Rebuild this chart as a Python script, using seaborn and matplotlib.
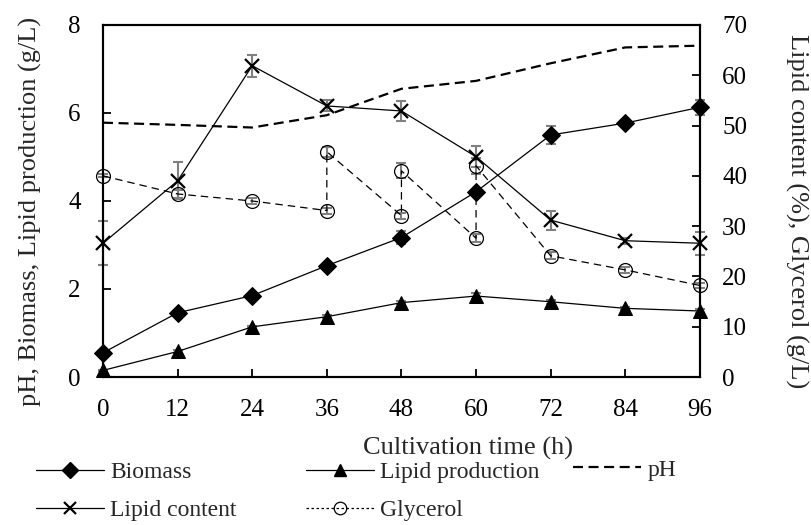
import matplotlib
matplotlib.use("Agg")
import matplotlib.pyplot as plt
import seaborn as sns
import pandas as pd
from matplotlib.lines import Line2D

# Style
sns.set_style("ticks")
plt.rcParams['font.family'] = ['Liberation Serif', 'DejaVu Serif']

# Data
time_h = [0, 12, 24, 36, 48, 60, 72, 84, 96]
biomass = [0.55, 1.46, 1.85, 2.53, 3.17, 4.21, 5.50, 5.77, 6.13]
biomass_err = [0.03, 0.04, 0.04, 0.05, 0.14, 0.05, 0.20, 0.08, 0.17]
lipid_prod = [0.15, 0.58, 1.14, 1.37, 1.69, 1.84, 1.71, 1.56, 1.50]
lipid_prod_err = [0.02, 0.03, 0.03, 0.03, 0.04, 0.07, 0.04, 0.03, 0.05]
ph = [5.78, 5.73, 5.67, 5.95, 6.55, 6.73, 7.13, 7.49, 7.53]
lipid_content = [26.6, 39.0, 61.9, 53.9, 52.9, 43.8, 31.2, 27.1, 26.6]
lipid_content_err = [4.4, 3.7, 2.2, 1.1, 2.0, 2.1, 1.9, 0.6, 2.3]
# glycerol was fed at 36, 48 and 60 h -> two readings at each of those times
glycerol_time = [0, 12, 24, 36, 36, 48, 48, 60, 60, 72, 84, 96]
glycerol = [40.0, 36.4, 35.0, 33.1, 44.8, 32.1, 41.0, 27.6, 42.0, 24.1, 21.3, 18.2]
glycerol_err = [0.3, 0.8, 0.5, 0.6, 1.0, 0.6, 1.5, 0.8, 1.6, 0.7, 0.6, 0.5]

left_ticks = [0, 2, 4, 6, 8]
right_ticks = [0, 10, 20, 30, 40, 50, 60, 70]

df = pd.DataFrame({"t": time_h, "biomass": biomass, "lipid_prod": lipid_prod,
                   "ph": ph, "lipid_content": lipid_content})
gly = pd.DataFrame({"t": glycerol_time, "glycerol": glycerol})

ERR = "#808080"
fig = plt.figure(figsize=(8.11, 5.25), dpi=100)
fig.subplots_adjust(left=0.127, right=0.863, top=0.9524, bottom=0.2819)
ax = fig.add_subplot(111)
ax2 = ax.twinx()

# error bars (gray)
eb = dict(fmt='none', ecolor=ERR, elinewidth=1.5, capsize=3.5, capthick=1.5,
          clip_on=False, zorder=2)
ax.errorbar(time_h, biomass, yerr=biomass_err, **eb)
ax.errorbar(time_h, lipid_prod, yerr=lipid_prod_err, **eb)
ax2.errorbar(time_h, lipid_content, yerr=lipid_content_err, **eb)
ax2.errorbar(glycerol_time, glycerol, yerr=glycerol_err, **eb)

# left axis series
sns.lineplot(data=df, x="t", y="ph", ax=ax, color="black", lw=1.6,
             linestyle=(0, (4.5, 2.5)), clip_on=False, zorder=3)
sns.lineplot(data=df, x="t", y="biomass", ax=ax, color="black", lw=0.9,
             marker="D", markersize=9, markerfacecolor="black",
             markeredgecolor="black", clip_on=False, zorder=4)
sns.lineplot(data=df, x="t", y="lipid_prod", ax=ax, color="black", lw=0.9,
             marker="^", markersize=10, markerfacecolor="black",
             markeredgecolor="black", clip_on=False, zorder=4)

# right axis series
sns.lineplot(data=df, x="t", y="lipid_content", ax=ax2, color="black", lw=0.9,
             marker="x", markersize=10, markeredgewidth=1.6,
             markeredgecolor="black", clip_on=False, zorder=4)
sns.lineplot(data=gly, x="t", y="glycerol", ax=ax2, color="black", lw=0.9,
             linestyle=(0, (6, 4)), marker="o", markersize=10,
             markerfacecolor="none", markeredgecolor="black", markeredgewidth=0.9,
             estimator=None, sort=False, clip_on=False, zorder=4)

ax.set_xlim(0, 96)
ax.set_xticks(time_h)
ax.set_ylim(0, 8)
ax.set_yticks(left_ticks)
ax2.set_ylim(0, 70)
ax2.set_yticks(right_ticks)

for a in (ax, ax2):
    for s in a.spines.values():
        s.set_linewidth(1.5)
        s.set_color("black")
ax.tick_params(axis='both', direction='in', length=6, width=1.3, pad=16,
               labelsize=18, colors="black", top=False, right=False)
ax2.tick_params(axis='y', direction='in', length=6, width=1.3, pad=16,
                labelsize=18, colors="black")

ax.set_xlabel("Cultivation time (h)", fontsize=19)
ax.set_ylabel("pH, Biomass, Lipid production (g/L)", fontsize=19)
ax2.set_ylabel("Lipid content (%), Glycerol (g/L)", fontsize=19, rotation=270)
ax.xaxis.label.set_va('center')
ax.yaxis.label.set_va('center')
ax2.yaxis.label.set_va('center')
ax.xaxis.set_label_coords(0.611, -0.202)
ax.yaxis.set_label_coords(-0.121, 0.47)
ax2.yaxis.set_label_coords(1.1625, 0.47)

# legend, laid out in fixed columns below the axes
h_bio = Line2D([], [], color="black", lw=0.9, marker="D", markersize=8, mfc="black")
h_lp = Line2D([], [], color="black", lw=0.9, marker="^", markersize=9, mfc="black")
h_ph = Line2D([], [], color="black", lw=1.6, linestyle=(0, (4.5, 2.5)))
h_lc = Line2D([], [], color="black", lw=0.9, marker="x", markersize=9, mew=1.6)
h_gly = Line2D([], [], color="black", lw=0.9, linestyle=(0, (2, 2)), marker="o",
               markersize=9, mfc="none", mew=0.9)

leg_kw = dict(frameon=False, fontsize=17, handlelength=2.9, handletextpad=0.25,
              borderpad=0, borderaxespad=0, labelspacing=0.7, loc="center left")
fig.legend([h_bio, h_lc], ["Biomass", "Lipid content"],
           bbox_to_anchor=(0.0444, 0.0638), **leg_kw)
fig.legend([h_lp, h_gly], ["Lipid production", "Glycerol"],
           bbox_to_anchor=(0.377, 0.0638), **leg_kw)
fig.legend([h_ph], ["pH"], bbox_to_anchor=(0.7065, 0.1048), **leg_kw)

fig.savefig("out.png", dpi=100)
